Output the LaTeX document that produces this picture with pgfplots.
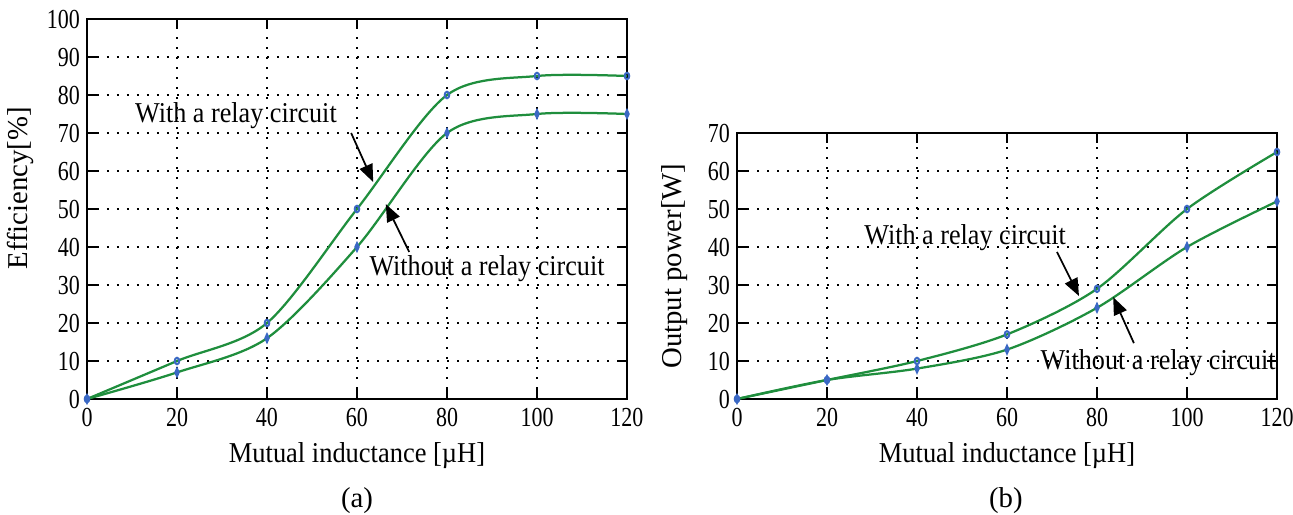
\documentclass[border=0pt]{standalone}
\usepackage{fontspec}
\setmainfont{Liberation Serif}
\usepackage{pgfplots}
\pgfplotsset{compat=1.18}
\usetikzlibrary{arrows.meta}
\definecolor{curvegreen}{HTML}{1F8E3D}
\definecolor{markblue}{HTML}{3A68C4}
\tikzset{
  note/.style={font=\fontsize{11.5}{13}\selectfont, inner sep=1pt, xscale=0.91},
  arr/.style={-{Triangle[length=7pt,width=5.5pt]}, line width=0.7pt, black},
}
\pgfplotsset{
  relayax/.style={
    scale only axis, width=216pt,
    xmin=0, xmax=120, ymin=0,
    xtick={0,20,...,120},
    grid=major, grid style={black, line width=0.7pt, dash pattern=on 0.7pt off 3.3pt},
    tick align=inside, tick style={black, line width=0.6pt},
    major tick length=4pt,
    axis line style={line width=0.8pt},
    tick label style={font=\fontsize{11}{13}\selectfont, xscale=0.8},
    label style={font=\fontsize{11.5}{13}\selectfont},
    xlabel style={xscale=0.92},
    /pgf/number format/assume math mode=true,
  },
  withc/.style={curvegreen, line width=0.9pt, smooth, mark=o, mark size=1.3pt,
    mark options={markblue, line width=0.8pt, solid, xscale=0.7}},
  woc/.style={curvegreen, line width=0.9pt, smooth, mark=diamond*, mark size=1.4pt,
    mark options={markblue, solid, xscale=0.6}},
}
\begin{document}
\begin{tikzpicture}
\useasboundingbox (-34.8pt,-46.4pt) rectangle (482.4pt,159.6pt);
\begin{axis}[relayax, height=152pt, ymax=100, ytick={0,10,...,100},
  at={(0pt,0pt)}, anchor=south west,
  xlabel={Mutual inductance [µH]},
  ylabel={Efficiency[\%]},
  xlabel style={at={(axis description cs:0.5,-0.15)}, anchor=center},
  ylabel style={at={(axis description cs:-0.124,0.555)}, anchor=center},
  clip=false]
\addplot[withc] coordinates {(0,0) (20,10) (40,20) (60,50) (80,80) (100,85) (120,85)};
\addplot[woc] coordinates {(0,0) (20,7) (40,16) (60,40) (80,70) (100,75) (120,75)};
\node[note] at (axis cs:33.1,74.7) {With a relay circuit};
\draw[arr] (axis cs:58.7,70) -- (axis cs:63.6,57.1);
\node[note] at (axis cs:88.9,34.4) {Without a relay circuit};
\draw[arr] (axis cs:71.6,38.7) -- (axis cs:66.4,51.3);
\node[font=\fontsize{11.5}{13}\selectfont] at (axis description cs:0.5,-0.268) {(a)};
\end{axis}
\begin{axis}[relayax, height=106.4pt, ymax=70, ytick={0,10,...,70},
  at={(260pt,0pt)}, anchor=south west,
  xlabel={Mutual inductance [µH]},
  ylabel={Output power[W]},
  xlabel style={at={(axis description cs:0.5,-0.214)}, anchor=center},
  ylabel style={at={(axis description cs:-0.115,0.5)}, anchor=center},
  clip=false]
\addplot[withc] coordinates {(0,0) (20,5) (40,10) (60,17) (80,29) (100,50) (120,65)};
\addplot[woc] coordinates {(0,0) (20,5) (40,8) (60,13) (80,24) (100,40) (120,52)};
\node[note] at (axis cs:50.7,42.4) {With a relay circuit};
\draw[arr] (axis cs:71.1,38.7) -- (axis cs:76,27.1);
\node[note] at (axis cs:93.6,9.5) {Without a relay circuit};
\draw[arr] (axis cs:88.2,14.7) -- (axis cs:83.6,26.8);
\node[font=\fontsize{11.5}{13}\selectfont] at (axis description cs:0.498,-0.383) {(b)};
\end{axis}
\end{tikzpicture}
\end{document}
